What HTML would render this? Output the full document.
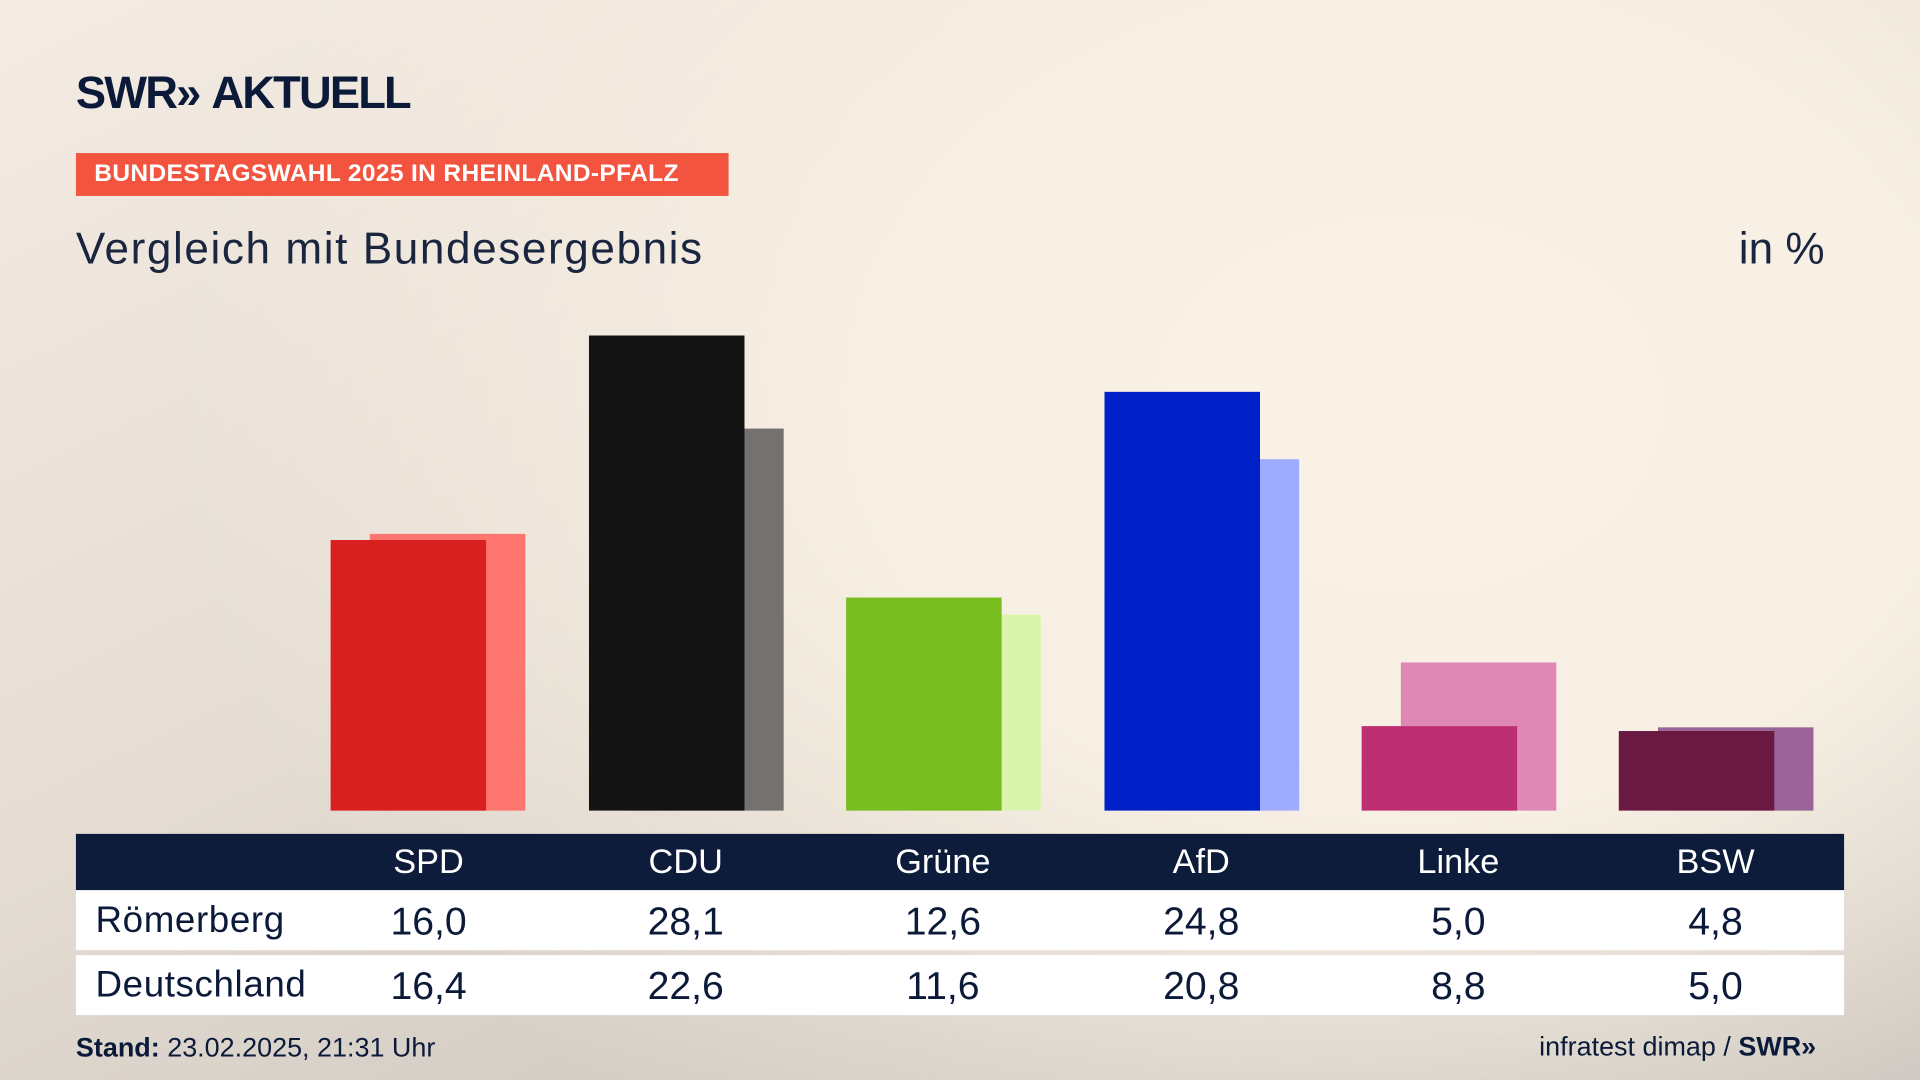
<!DOCTYPE html>
<html><head><meta charset="utf-8"><style>
html,body{margin:0;padding:0;width:1920px;height:1080px;overflow:hidden}
#s{position:absolute;left:0;top:0;width:1568px;height:882px;transform:scale(1.22449);transform-origin:0 0;
background:radial-gradient(ellipse 1000px 750px at 1150px 330px,#faf2e6 0%,#f7efe3 45%,rgba(247,239,227,0) 100%),linear-gradient(155deg,#f4ece2 0%,#e4dcd2 45%,#bfbab5 100%);
font-family:"Liberation Sans","DejaVu Sans",sans-serif;color:#0c1a3a}
.a{position:absolute}
.b{position:absolute;width:127px}
.t{position:absolute;white-space:nowrap}
.c{position:absolute;width:200px;text-align:center;margin-left:-100px}
</style></head><body><div id="s">
<div class="t" style="left:62px;top:55px;font-size:37px;font-weight:bold;letter-spacing:-1.5px">SWR<span style="letter-spacing:-8px">»</span>&nbsp; AKTUELL</div>
<div class="a" style="left:62px;top:125px;width:533px;height:35px;background:#f2543f"></div>
<div class="t" style="left:77px;top:131px;font-size:20px;font-weight:bold;color:#fff;letter-spacing:0.3px">BUNDESTAGSWAHL 2025 IN RHEINLAND-PFALZ</div>
<div class="t" style="left:62px;top:182px;font-size:36px;color:#1a2540;letter-spacing:1.3px">Vergleich mit Bundesergebnis</div>
<div class="t" style="left:1420px;top:182px;font-size:36px;color:#1a2540">in %</div>

<div class="b" style="left:302px;top:436px;height:226px;background:#ff7670"></div>
<div class="b" style="left:270px;top:441px;height:221px;background:#d82020"></div>
<div class="b" style="left:513px;top:350px;height:312px;background:#737271"></div>
<div class="b" style="left:481px;top:274px;height:388px;background:#141414"></div>
<div class="b" style="left:723px;top:502px;height:160px;background:#d9f5ad"></div>
<div class="b" style="left:691px;top:488px;height:174px;background:#78bc1e"></div>
<div class="b" style="left:934px;top:375px;height:287px;background:#9eabff"></div>
<div class="b" style="left:902px;top:320px;height:342px;background:#0021c8"></div>
<div class="b" style="left:1144px;top:541px;height:121px;background:#df88b5"></div>
<div class="b" style="left:1112px;top:593px;height:69px;background:#bd2f72"></div>
<div class="b" style="left:1354px;top:594px;height:68px;background:#9b6499"></div>
<div class="b" style="left:1322px;top:597px;height:65px;background:#6a1a40"></div>

<div class="a" style="left:62px;top:681px;width:1444px;height:46px;background:#0c1c3a"></div>
<div class="a" style="left:62px;top:727px;width:1444px;height:49px;background:#fff"></div>
<div class="a" style="left:62px;top:780px;width:1444px;height:49px;background:#fff"></div>
<div style="position:absolute;top:688px;left:0;font-size:28px;color:#fff">
<div class="c" style="left:350px">SPD</div><div class="c" style="left:560px">CDU</div><div class="c" style="left:770px">Grüne</div><div class="c" style="left:981px">AfD</div><div class="c" style="left:1191px">Linke</div><div class="c" style="left:1401px">BSW</div></div>
<div class="t" style="left:78px;top:735px;font-size:30px;letter-spacing:0.5px">Römerberg</div>
<div style="position:absolute;top:734px;left:0;font-size:32px">
<div class="c" style="left:350px">16,0</div><div class="c" style="left:560px">28,1</div><div class="c" style="left:770px">12,6</div><div class="c" style="left:981px">24,8</div><div class="c" style="left:1191px">5,0</div><div class="c" style="left:1401px">4,8</div></div>
<div class="t" style="left:78px;top:788px;font-size:30px;letter-spacing:0.5px">Deutschland</div>
<div style="position:absolute;top:787px;left:0;font-size:32px">
<div class="c" style="left:350px">16,4</div><div class="c" style="left:560px">22,6</div><div class="c" style="left:770px">11,6</div><div class="c" style="left:981px">20,8</div><div class="c" style="left:1191px">8,8</div><div class="c" style="left:1401px">5,0</div></div>
<div class="t" style="left:62px;top:843px;font-size:22px"><b>Stand:</b> 23.02.2025, 21:31 Uhr</div>
<div class="t" style="left:1257px;top:842px;font-size:22px">infratest dimap / <b>SWR<span style="letter-spacing:-5px">»</span></b></div>
</div></body></html>
